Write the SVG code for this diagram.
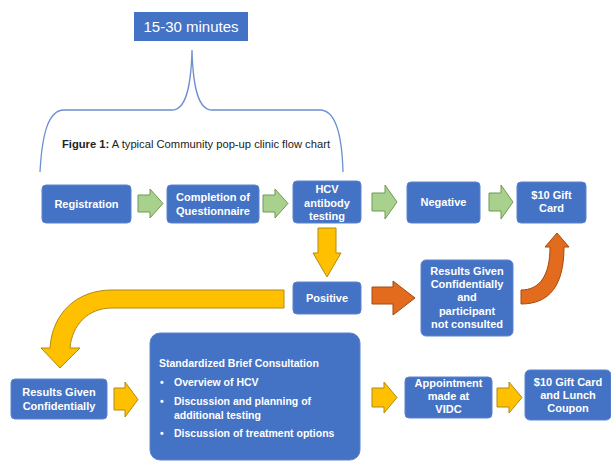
<svg xmlns="http://www.w3.org/2000/svg" width="611" height="462" viewBox="0 0 611 462">
<style>
.box{fill:#4472c4;stroke:#5b84cc;stroke-width:1}
.t{font-family:"Liberation Sans",Arial,sans-serif;font-weight:bold;font-size:11px;fill:#fff;text-anchor:middle}
.tl{font-family:"Liberation Sans",Arial,sans-serif;font-weight:bold;font-size:10.5px;fill:#fff}
.g{fill:#a9d18e;stroke:#6f9a52;stroke-width:1}
.y{fill:#ffc000;stroke:#b08a14;stroke-width:1}
.o{fill:#e26b1e;stroke:#a44a10;stroke-width:1}
.brace{fill:none;stroke:#6d8fd0;stroke-width:1.3}
</style>
<rect width="611" height="462" fill="#fff"/>
<g id="title">
<rect x="134" y="12" width="114" height="29" fill="#4472c4"/>
<text x="191" y="32" style="font-family:'Liberation Sans',Arial,sans-serif;font-size:15px;fill:#fff;text-anchor:middle">15-30 minutes</text>
</g>
<g id="brace">
<path class="brace" d="M40,172 C42,135 48,110 64,110 L172,110 C185,110 191,90 192,50 C193,90 199,110 212,110 L320,110 C336,110 342,135 343,172"/>
</g>
<g id="caption">
<text x="62" y="148" style="font-family:'Liberation Sans',Arial,sans-serif;font-size:11.2px;fill:#222"><tspan font-weight="bold">Figure 1:</tspan> A typical Community pop-up clinic flow chart</text>
</g>
<g id="connectors">
<path class="g" d="M138,195 L150,195 L150,189 L163,203.5 L150,218 L150,212 L138,212 Z"/>
<path class="g" d="M263,195 L275,195 L275,189 L288,203.5 L275,218 L275,212 L263,212 Z"/>
<path class="g" d="M372,193 L385,193 L385,185 L397,202 L385,219 L385,211 L372,211 Z"/>
<path class="g" d="M489,193 L501,193 L501,185 L513,202 L501,219 L501,211 L489,211 Z"/>
<path class="y" d="M318,228 L336,228 L336,253 L341,253 L327,277 L313,253 L318,253 Z"/>
<path class="o" d="M372,287 L393,287 L393,281 L415,298 L393,315 L393,304 L372,304 Z"/>
<path class="o" d="M521,290 C540,290 550,275 550,247 L545,247 L557,233 L569,247 L564,247 C564,285 550,304 521,304 Z"/>
<path class="y" d="M284,290 L112,290 C75,290 52,315 50,348 L41,348 L60,368 L80,348 L70,348 C72,325 88,308 112,308 L284,308 Z"/>
<path class="y" d="M114,388 L125,388 L125,382 L138,399.5 L125,417 L125,410 L114,410 Z"/>
<path class="y" d="M372,388 L384,388 L384,382 L397,397.5 L384,413 L384,407 L372,407 Z"/>
<path class="y" d="M497,388 L509,388 L509,382 L522,397.5 L509,413 L509,407 L497,407 Z"/>
</g>
<g id="registration">
<rect class="box" x="42" y="185" width="89" height="38" rx="4"/>
<text class="t" x="86.5" y="208">Registration</text>
</g>
<g id="questionnaire">
<rect class="box" x="167" y="185" width="92" height="38" rx="4"/>
<text class="t" x="213" y="201">Completion of</text>
<text class="t" x="213" y="215">Questionnaire</text>
</g>
<g id="hcv-testing">
<rect class="box" x="293" y="181" width="68" height="42" rx="4"/>
<text class="t" x="327" y="193">HCV</text>
<text class="t" x="327" y="207">antibody</text>
<text class="t" x="327" y="220">testing</text>
</g>
<g id="negative">
<rect class="box" x="407" y="182" width="73" height="41" rx="4"/>
<text class="t" x="443.5" y="206">Negative</text>
</g>
<g id="gift-card">
<rect class="box" x="517" y="182" width="69" height="41" rx="4"/>
<text class="t" x="551.5" y="199">$10 Gift</text>
<text class="t" x="551.5" y="212">Card</text>
</g>
<g id="positive">
<rect class="box" x="293" y="282" width="68" height="32" rx="4"/>
<text class="t" x="327" y="302">Positive</text>
</g>
<g id="results-not-consulted">
<rect class="box" x="421" y="260" width="92" height="76" rx="5"/>
<text class="t" x="467" y="275">Results Given</text>
<text class="t" x="467" y="288">Confidentially</text>
<text class="t" x="467" y="301">and</text>
<text class="t" x="467" y="315">participant</text>
<text class="t" x="467" y="328">not consulted</text>
</g>
<g id="results-confidential">
<rect class="box" x="11" y="379" width="96" height="40" rx="4"/>
<text class="t" x="59" y="396">Results Given</text>
<text class="t" x="59" y="410">Confidentially</text>
</g>
<g id="consultation">
<rect class="box" x="150" y="333" width="210" height="127" rx="10"/>
<text class="tl" x="159" y="367">Standardized Brief Consultation</text>
<text class="tl" x="160" y="386">•</text>
<text class="tl" x="174" y="386">Overview of HCV</text>
<text class="tl" x="160" y="405">•</text>
<text class="tl" x="174" y="405">Discussion and planning of</text>
<text class="tl" x="174" y="419">additional testing</text>
<text class="tl" x="160" y="437">•</text>
<text class="tl" x="174" y="437">Discussion of treatment options</text>
</g>
<g id="appointment">
<rect class="box" x="405" y="377" width="87" height="41" rx="4"/>
<text class="t" x="448.5" y="387">Appointment</text>
<text class="t" x="448.5" y="400">made at</text>
<text class="t" x="448.5" y="413">VIDC</text>
</g>
<g id="gift-lunch">
<rect class="box" x="525" y="370" width="86" height="50" rx="5"/>
<text class="t" x="568" y="386">$10 Gift Card</text>
<text class="t" x="568" y="399">and Lunch</text>
<text class="t" x="568" y="412">Coupon</text>
</g>
</svg>
